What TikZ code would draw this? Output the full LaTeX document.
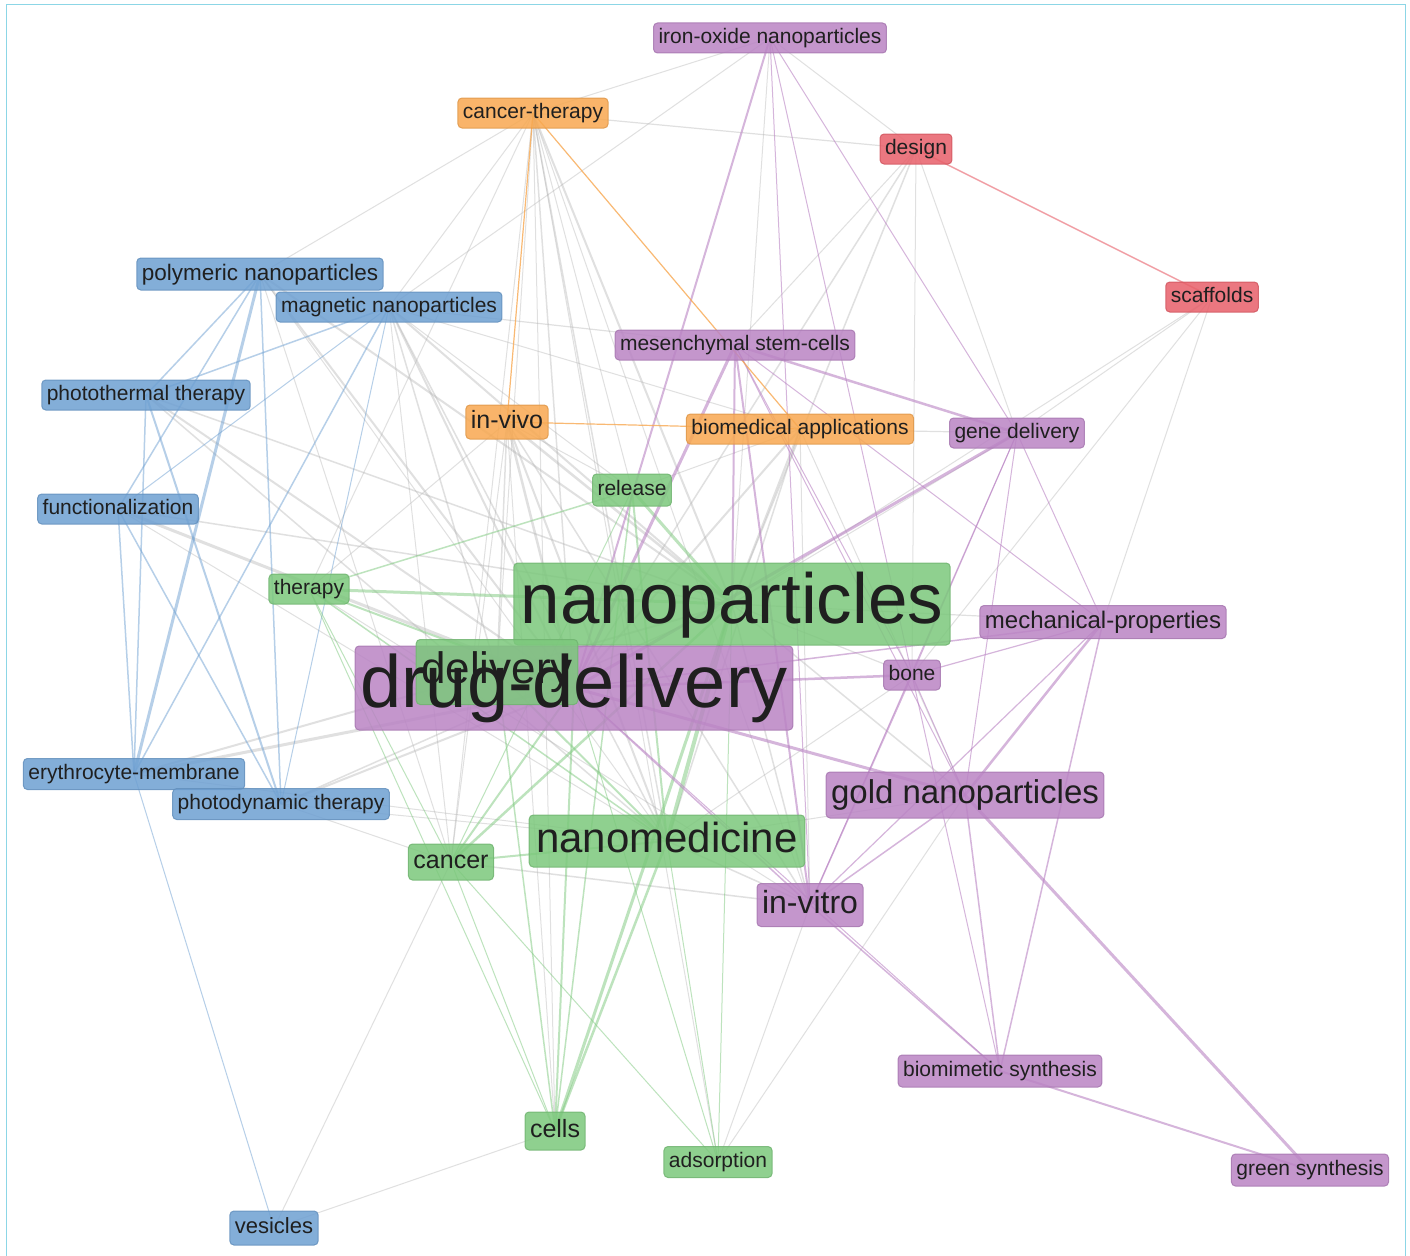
\documentclass[tikz,border=0pt]{standalone}
\usepackage{fontspec}
\setmainfont{Liberation Sans}
\usetikzlibrary{backgrounds}
\pgfdeclarelayer{boxes}
\pgfsetlayers{background,boxes,main}
\definecolor{kblue}{RGB}{110,160,210}
\definecolor{kgreen}{RGB}{124,200,124}
\definecolor{kpurple}{RGB}{186,132,196}
\definecolor{korange}{RGB}{248,168,80}
\definecolor{kred}{RGB}{232,96,106}
\definecolor{kframe}{RGB}{140,214,230}
\begin{document}
\begin{tikzpicture}[x=1pt,y=-1pt,
fs/.style={font=\fontsize{#1}{#1}\selectfont,text height={.74*#1pt},text depth={.2*#1pt}},
kw/.style={inner xsep=5pt,inner ysep=0pt,outer sep=0pt,text=black!88,minimum height=30pt,fs=21,
  append after command={\pgfextra{\begin{pgfonlayer}{boxes}
    \filldraw[fill=#1,draw=#1!90!black,fill opacity=.85,draw opacity=.85,line width=1pt,
      rounded corners=4pt] (\tikzlastnode.south west) rectangle (\tikzlastnode.north east);
    \end{pgfonlayer}}}},
blueword/.style={kw=kblue},
greenword/.style={kw=kgreen},
purpleword/.style={kw=kpurple},
orangeword/.style={kw=korange},
redword/.style={kw=kred},
grayedge/.style={draw=black!30,line width=#1,opacity=.4},
blueedge/.style={draw=kblue,line width=#1,opacity=.5},
greenedge/.style={draw=kgreen,line width=#1,opacity=.5},
purpleedge/.style={draw=kpurple,line width=#1,opacity=.6},
orangeedge/.style={draw=korange,line width=#1,opacity=.8},
rededge/.style={draw=kred,line width=#1,opacity=.6}]
\useasboundingbox (0,0) rectangle (1410,1255);
\draw[kframe,line width=1pt] (6,5) rectangle (1405,1270);

% keywords
\node[purpleword] (iron) at (770,38) {iron-oxide nanoparticles};
\node[orangeword] (ctherapy) at (533,113) {cancer-therapy};
\node[redword] (design) at (916,149) {design};
\node[redword] (scaff) at (1212,297) {scaffolds};
\node[blueword,fs=22.5,minimum height=32pt] (poly) at (260,274) {polymeric nanoparticles};
\node[blueword] (magnetic) at (389,307) {magnetic nanoparticles};
\node[purpleword] (msc) at (735,345) {mesenchymal stem-cells};
\node[blueword] (pthermal) at (146,395) {photothermal therapy};
\node[orangeword,fs=25,minimum height=34pt] (invivo) at (507,422) {in-vivo};
\node[orangeword] (biomed) at (800,429) {biomedical applications};
\node[purpleword] (gene) at (1017,433) {gene delivery};
\node[greenword,minimum height=32pt] (release) at (632,490) {release};
\node[blueword] (func) at (118,509) {functionalization};
\node[greenword] (therapy) at (309,589) {therapy};
\node[greenword,fs=71,minimum height=82pt,inner xsep=7pt] (nanop) at (732,604) {nanoparticles};
\node[purpleword,fs=24,minimum height=33pt] (mech) at (1103,622) {mechanical-properties};
\node[purpleword,fs=74,minimum height=84pt] (drugdel) at (574,688) {drug-delivery};
\node[greenword,fs=44,minimum height=65pt] (delivery) at (497,672) {delivery};
\node[purpleword] (bone) at (912,675) {bone};
\node[blueword,minimum height=31pt] (ery) at (134,774) {erythrocyte-membrane};
\node[blueword,minimum height=31pt] (pdynamic) at (281,804) {photodynamic therapy};
\node[purpleword,fs=33,minimum height=46pt] (gold) at (965,795) {gold nanoparticles};
\node[greenword,fs=42,minimum height=52pt,inner xsep=7pt] (nanomed) at (667,841) {nanomedicine};
\node[greenword,fs=25,minimum height=36pt] (cancer) at (451,862) {cancer};
\node[purpleword,fs=32,minimum height=43pt] (invitro) at (810,905) {in-vitro};
\node[purpleword,minimum height=32pt] (biomim) at (1000,1071) {biomimetic synthesis};
\node[greenword,fs=25,minimum height=38pt] (cells) at (555,1131) {cells};
\node[greenword,minimum height=31pt] (adsorp) at (718,1162) {adsorption};
\node[purpleword,minimum height=32pt] (greensyn) at (1310,1170) {green synthesis};
\node[blueword,fs=22,minimum height=34pt] (vesicles) at (274,1228) {vesicles};

% links
\begin{scope}[on background layer]
\fill[white] (0,0) rectangle (1410,1255);
\foreach \a/\b/\w in {ctherapy/poly/1,ctherapy/magnetic/1,ctherapy/design/1.2,ctherapy/nanop/2,
  ctherapy/drugdel/1.5,ctherapy/nanomed/1.5,ctherapy/delivery/1,ctherapy/cells/1,ctherapy/cancer/1,
  ctherapy/therapy/1,ctherapy/release/1,ctherapy/invitro/1,ctherapy/adsorp/1,
  iron/magnetic/1,iron/nanop/1,iron/design/1,iron/ctherapy/1,
  magnetic/msc/1.2,magnetic/biomed/1,poly/nanop/2,poly/drugdel/2,poly/nanomed/1,poly/cancer/1,
  magnetic/nanop/2,magnetic/drugdel/2,magnetic/nanomed/1.5,magnetic/delivery/1.5,magnetic/cancer/1,
  magnetic/release/1,pthermal/nanop/1.5,pthermal/drugdel/2,pthermal/nanomed/1.5,
  func/drugdel/3,func/nanop/1.5,func/nanomed/1,ery/drugdel/3,ery/nanop/2,ery/nanomed/1,
  pdynamic/drugdel/2,pdynamic/nanop/1.5,pdynamic/nanomed/1,pdynamic/cancer/1,
  vesicles/cells/1,vesicles/cancer/1,
  invivo/nanop/2.5,invivo/drugdel/2.5,invivo/nanomed/2,invivo/cells/1,invivo/delivery/1.5,
  invivo/cancer/1,invivo/release/1,invivo/invitro/1.5,invivo/therapy/1,
  biomed/nanop/2,biomed/drugdel/2,biomed/gold/1,biomed/invitro/1,biomed/nanomed/1.5,
  biomed/release/1,biomed/gene/1.2,therapy/invitro/1,
  nanop/mech/1.2,nanop/bone/1.2,nanop/gold/1.5,nanop/invitro/1.5,nanop/gene/1,
  nanomed/invitro/1.5,nanomed/gold/1,nanomed/bone/1,cancer/invitro/1.5,
  adsorp/invitro/1,adsorp/gold/1,
  scaff/gene/1,scaff/mech/1,scaff/nanop/1,scaff/bone/1,
  design/nanop/1.5,design/drugdel/1.5,design/msc/1,design/gene/1,design/bone/1}
  \draw[grayedge=\w] (\a.center) -- (\b.center);
\foreach \a/\b/\w in {poly/pthermal/1.5,poly/func/1.5,poly/ery/3,poly/pdynamic/1.5,
  magnetic/pthermal/1.5,magnetic/func/1,magnetic/ery/1.5,magnetic/pdynamic/1,
  pthermal/ery/1.5,pthermal/pdynamic/2,func/ery/1.5,func/pdynamic/1.5,ery/vesicles/1}
  \draw[blueedge=\w] (\a.center) -- (\b.center);
\foreach \a/\b/\w in {therapy/nanop/3,release/nanop/3,nanop/cells/3,nanomed/cells/2.5,
  drugdel/cells/2,delivery/cells/1.5,release/cells/1.5,therapy/cells/1,nanop/nanomed/4,
  cancer/nanop/2.5,cancer/drugdel/2,release/therapy/1.5,release/cancer/1,release/nanomed/2,
  therapy/drugdel/2,therapy/nanomed/1.5,therapy/cancer/1,cancer/cells/1,cancer/adsorp/1,
  adsorp/nanop/1,adsorp/nanomed/1,adsorp/drugdel/1,cancer/nanomed/2,delivery/nanomed/2}
  \draw[greenedge=\w] (\a.center) -- (\b.center);
\foreach \a/\b/\w in {iron/drugdel/2,iron/invitro/1,iron/gene/1,iron/bone/1,
  msc/drugdel/3,msc/nanop/2,msc/gene/2.5,msc/bone/1,msc/gold/1,msc/invitro/2,msc/mech/1,
  drugdel/gold/3,drugdel/bone/2.5,drugdel/mech/1.5,drugdel/invitro/1.5,drugdel/biomim/1,
  gene/drugdel/3,gene/bone/1,gene/gold/1,gene/mech/1,gene/invitro/1,
  bone/mech/1.2,bone/invitro/1.5,bone/gold/1,bone/biomim/1,
  mech/gold/2.5,mech/invitro/1.2,mech/biomim/1.5,gold/greensyn/3,gold/invitro/1.5,
  gold/biomim/1.5,invitro/biomim/1.5,biomim/greensyn/2}
  \draw[purpleedge=\w] (\a.center) -- (\b.center);
\foreach \a/\b in {ctherapy/invivo,ctherapy/biomed,invivo/biomed}
  \draw[orangeedge=1.2] (\a.center) -- (\b.center);
\draw[rededge=1.5] (design.center) -- (scaff.center);
\end{scope}
\end{tikzpicture}
\end{document}
